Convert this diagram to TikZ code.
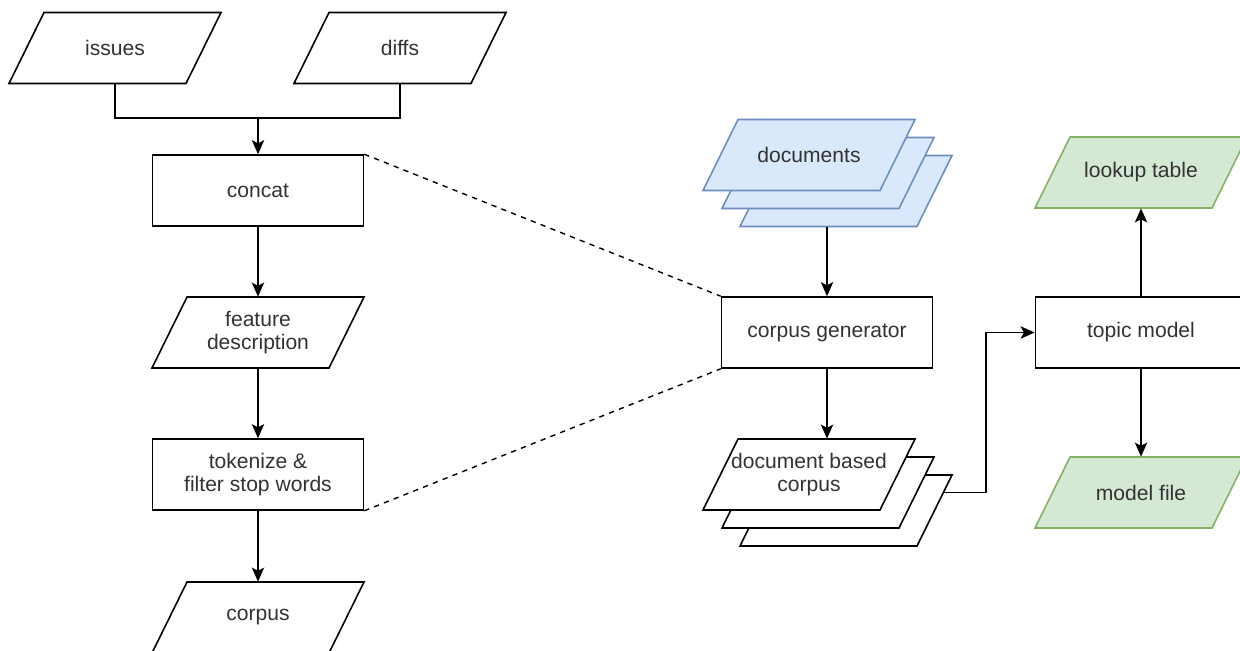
\documentclass[tikz,border=0pt]{standalone}
\usepackage{fontspec}
\setmainfont{Liberation Sans}
\usetikzlibrary{calc,arrows.meta}
\definecolor{docfill}{HTML}{DAE8FC}
\definecolor{docline}{HTML}{6C8EBF}
\definecolor{outfill}{HTML}{D5E8D4}
\definecolor{outline}{HTML}{82B366}

% slanted data sheet: [look] {name} {x,y} {text}
\newcommand{\datasheet}[4][]{%
	\draw[sheet,#1] ($(#3)+(-71,-35.5)$) -- ($(#3)+(106,-35.5)$) -- ($(#3)+(71,35.5)$) -- ($(#3)+(-106,35.5)$) -- cycle;
	\node[label box] (#2) at (#3) {#4};}

\begin{document}
\begin{tikzpicture}[x=0.02cm,y=-0.02cm,
	label box/.style={minimum width=3.54cm,minimum height=1.42cm,align=center,font=\fontsize{12}{13.5}\selectfont,text=black!80},
	box/.style={label box,draw,fill=white,line width=0.9pt,minimum width=4.22cm},
	sheet/.style={draw,fill=white,line width=0.9pt},
	docs/.style={fill=docfill,draw=docline},
	result/.style={fill=outfill,draw=outline},
	arr/.style={line width=0.9pt,-{Stealth[length=8pt,width=7pt,inset=1.8pt]}}]
	\clip (0,0) rectangle (1240,650);
	\fill[white] (0,0) rectangle (1240,650);
		\datasheet{issues}{115,48}{issues}
		\datasheet{diffs}{400,48}{diffs}
		\coordinate (merge) at (258,118);
		\node[box] (concat) at (258,190.5) {concat};
		\datasheet{feat}{258,332.5}{feature\\description}
		\node[box] (tok) at (258,474.5) {tokenize \&\\filter stop words};
		\datasheet{corpus}{258,617.5}{corpus}
        \datasheet[docs]{docs3}{846,191}{}
        \datasheet[docs]{docs2}{828,173}{}
        \datasheet[docs]{docs1}{809,155}{documents}
        \node[box] (gen) at (827,332.5) {corpus generator};
        \datasheet{dbc3}{846,510.5}{}
        \datasheet{dbc2}{828,492.5}{}
        \datasheet{dbc1}{809,474.5}{document based\\corpus}
        \node[box] (topic) at (1141,332.5) {topic model};
        \datasheet[result]{lookup}{1141,172.5}{lookup table}
        \datasheet[result]{model}{1141,492.5}{model file}
		\draw[line width=0.9pt] (issues.south) |- (merge) -| (diffs.south);
        \draw[arr] (merge) -- (concat);
        \draw[arr] (concat) -- (feat);
        \draw[arr] (feat) -- (tok);
        \draw[arr] (tok) -- (corpus);
        \draw[line width=0.8pt,dash pattern=on 3pt off 3pt] (concat.north east) -- (gen.north west);
        \draw[line width=0.8pt,dash pattern=on 3pt off 3pt] (tok.south east) -- (gen.south west);
        \draw[arr] (gen.north |- docs3.south) -- (gen.north);
        \draw[arr] (gen.south) -- (gen.south |- dbc1.north);
        \draw[arr] ($(dbc3.east)+(9,-18)$) -- ++(42,0) |- (topic.west);
        \draw[arr] (topic) -- (lookup);
        \draw[arr] (topic) -- (model);
\end{tikzpicture}
\end{document}
